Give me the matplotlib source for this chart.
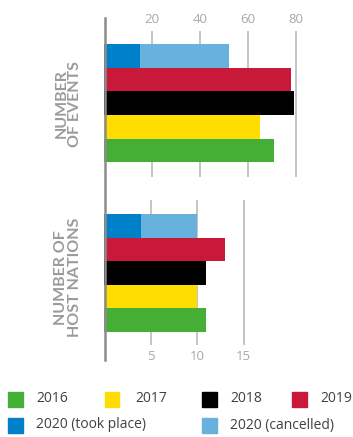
import matplotlib
matplotlib.use('Agg')
from matplotlib import pyplot as plt
from matplotlib.patches import Rectangle
from matplotlib.lines import Line2D

plt.rcParams['font.family'] = ['Open Sans', 'DejaVu Sans']

# data (bars listed top to bottom)
years = ['2020', '2019', '2018', '2017', '2016']
events = [52, 78, 79, 65, 71]
events_took_place = 15
nations = [10, 13, 11, 10, 11]
nations_took_place = 4
events_ticks = [20, 40, 60, 80]
nations_ticks = [5, 10, 15]

legend_labels = ['2016', '2017', '2018', '2019', '2020 (took place)', '2020 (cancelled)']
colors = {'2016': '#45ae34', '2017': '#ffdd00', '2018': '#000000', '2019': '#c8193a',
          'took': '#0080c8', 'cancel': '#66b2dd'}
bar_colors = [colors['cancel'], colors['2019'], colors['2018'], colors['2017'], colors['2016']]

W, H = 353, 437
fig = plt.figure(figsize=(W / 100, H / 100), dpi=100)

def px_axes(x0, y0, x1, y1):
    return fig.add_axes([x0 / W, 1 - y1 / H, (x1 - x0) / W, (y1 - y0) / H])

GRID = '#c4c4c4'
TICK = '#a8a8a8'
LAB = '#9b9b9b'

def panel(ax, vals, took, ticks, xmax, ylim, grid_span, tick_y, label):
    pos = range(len(vals))
    ax.barh(pos, vals, height=1.0, color=bar_colors, zorder=2)
    ax.barh(0, took, height=1.0, color=colors['took'], zorder=3)
    ax.vlines(ticks, grid_span[0], grid_span[1], color=GRID, lw=1.4, zorder=1)
    for t in ticks:
        ax.text(t, tick_y, str(t), ha='center', va='center', color=TICK, fontsize=9.5)
    ax.set_xlim(0, xmax)
    ax.set_ylim(*ylim)
    ax.axis('off')
    ax.text(-0.152, 0.5, label, transform=ax.transAxes, rotation=90, ha='center', va='center',
            color=LAB, fontsize=11.5, fontweight='bold', family=['Lato', 'DejaVu Sans'],
            linespacing=0.95, multialignment='center')

# number of events panel
ax1 = px_axes(104, 18, 340, 190)
panel(ax1, events, events_took_place, events_ticks, 236 / 2.4, (5.68, -1.61), (-1.05, 5.14), -1.56,
      'NUMBER\nOF EVENTS')

# number of host nations panel
ax2 = px_axes(104, 190, 340, 365)
panel(ax2, nations, nations_took_place, nations_ticks, 236 / 9.3, (5.91, -1.52), (-1.10, 5.06), 5.57,
      'NUMBER OF\nHOST NATIONS')

# vertical axis line
fig.add_artist(Line2D([104.5 / W, 104.5 / W], [1 - 18 / H, 1 - 360 / H], color='#8c8c8c', lw=1.8))

# legend
leg_pos = [(8, 36, 399), (105, 135, 399), (202, 230, 399), (292, 320, 399), (8, 36, 425), (202, 230, 425)]
leg_cols = [colors['2016'], colors['2017'], colors['2018'], colors['2019'], colors['took'], colors['cancel']]
for (sx, tx, cy), c, lab in zip(leg_pos, leg_cols, legend_labels):
    fig.add_artist(Rectangle((sx / W, 1 - (cy + 7.5) / H), 14.5 / W, 15 / H, color=c,
                             transform=fig.transFigure))
    fig.text(tx / W, 1 - cy / H, lab, ha='left', va='center', color='#404040', fontsize=10)

fig.savefig('out.png', dpi=100)
